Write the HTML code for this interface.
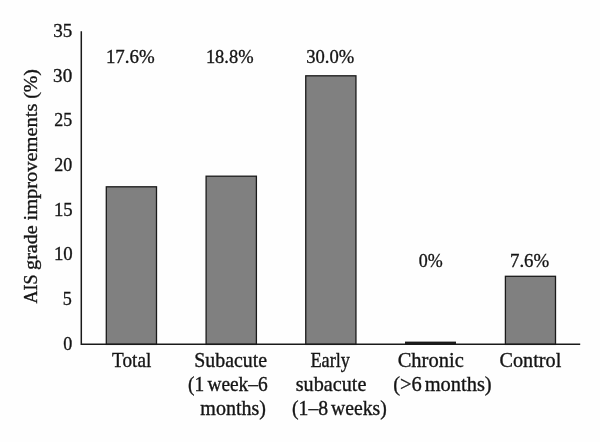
<!DOCTYPE html>
<html>
<head>
<meta charset="utf-8">
<title>AIS grade improvements</title>
<style>
html,body{margin:0;padding:0;background:#fff;}
body{width:600px;height:442px;overflow:hidden;}
svg{display:block;will-change:transform;}
text{font-family:"Liberation Serif","DejaVu Serif",serif;fill:#151515;stroke:#151515;stroke-width:0.35px;font-size:19.5px;white-space:pre;}
</style>
</head>
<body>
<svg width="600" height="442" viewBox="0 0 600 442">
<rect x="0" y="0" width="600" height="442" fill="#fefefe"/>
<g fill="#808080" stroke="#1a1a1a" stroke-width="1.3">
<rect x="106.3" y="186.8" width="50.2" height="157.6"/>
<rect x="206.1" y="176.2" width="50.3" height="168.2"/>
<rect x="305.75" y="75.8" width="50.2" height="268.6"/>
<rect x="505.4" y="276.3" width="50.1" height="68.1"/>
</g>
<rect x="405" y="341.6" width="51" height="3" fill="#1a1a1a"/>
<path d="M81.3 31.3 V344.35 H580.2" fill="none" stroke="#1a1a1a" stroke-width="1.5"/>

<text id="Total" x="112.08" y="366.70" textLength="39.19" lengthAdjust="spacingAndGlyphs" style="font-size:20.2px">Total</text>
<text id="Subacute" x="194.27" y="366.70" textLength="72.80" lengthAdjust="spacingAndGlyphs" style="font-size:20.2px">Subacute</text>
<text id="week" x="188.11" y="390.70" textLength="79.61" lengthAdjust="spacingAndGlyphs" style="font-size:20.2px;word-spacing:-1.8px">(1 week–6</text>
<text id="months" x="200.35" y="414.60" textLength="65.57" lengthAdjust="spacingAndGlyphs" style="font-size:20.2px">months)</text>
<text id="Early" x="310.38" y="366.70" textLength="39.58" lengthAdjust="spacingAndGlyphs" style="font-size:20.2px">Early</text>
<text id="subacute" x="295.75" y="390.70" textLength="70.64" lengthAdjust="spacingAndGlyphs" style="font-size:20.2px">subacute</text>
<text id="weeks" x="292.07" y="414.60" textLength="94.69" lengthAdjust="spacingAndGlyphs" style="font-size:20.2px;word-spacing:-2.2px">(1–8 weeks)</text>
<text id="Chronic" x="397.70" y="366.70" textLength="66.06" lengthAdjust="spacingAndGlyphs" style="font-size:20.2px">Chronic</text>
<text id="gt6" x="393.23" y="390.70" textLength="98.45" lengthAdjust="spacingAndGlyphs" style="font-size:20.2px;word-spacing:-2.2px">(&gt;6 months)</text>
<text id="Control" x="499.55" y="366.70" textLength="61.70" lengthAdjust="spacingAndGlyphs" style="font-size:20.2px">Control</text>
<text id="v176" x="105.95" y="63.10" textLength="48.72" lengthAdjust="spacingAndGlyphs">17.6%</text>
<text id="v188" x="205.89" y="63.10" textLength="47.67" lengthAdjust="spacingAndGlyphs">18.8%</text>
<text id="v300" x="306.19" y="63.10" textLength="48.03" lengthAdjust="spacingAndGlyphs">30.0%</text>
<text id="v0" x="418.66" y="267.00" textLength="23.97" lengthAdjust="spacingAndGlyphs">0%</text>
<text id="v76" x="509.96" y="267.00" textLength="39.29" lengthAdjust="spacingAndGlyphs">7.6%</text>
<text id="t35" x="53.13" y="36.90" textLength="19.07" lengthAdjust="spacingAndGlyphs">35</text>
<text id="t30" x="53.12" y="81.60" textLength="19.07" lengthAdjust="spacingAndGlyphs">30</text>
<text id="t25" x="54.19" y="126.30" textLength="17.97" lengthAdjust="spacingAndGlyphs">25</text>
<text id="t20" x="54.18" y="171.00" textLength="17.97" lengthAdjust="spacingAndGlyphs">20</text>
<text id="t15" x="53.94" y="215.70" textLength="18.77" lengthAdjust="spacingAndGlyphs">15</text>
<text id="t10" x="53.93" y="260.40" textLength="18.84" lengthAdjust="spacingAndGlyphs">10</text>
<text id="t5" x="62.82" y="305.10" textLength="9.07" lengthAdjust="spacingAndGlyphs">5</text>
<text id="t0" x="63.34" y="349.80" textLength="9.05" lengthAdjust="spacingAndGlyphs">0</text>
<text id="ytitle" transform="translate(36.70 303.50) rotate(-90)"><tspan x="0.00" textLength="33.60" lengthAdjust="spacingAndGlyphs">AIS </tspan><tspan x="33.60" textLength="49.70" lengthAdjust="spacingAndGlyphs">grade </tspan><tspan x="83.00" textLength="122.00" lengthAdjust="spacingAndGlyphs">improvements </tspan><tspan x="204.70" textLength="29.80" lengthAdjust="spacingAndGlyphs">(%)</tspan></text>
</svg>
</body>
</html>
